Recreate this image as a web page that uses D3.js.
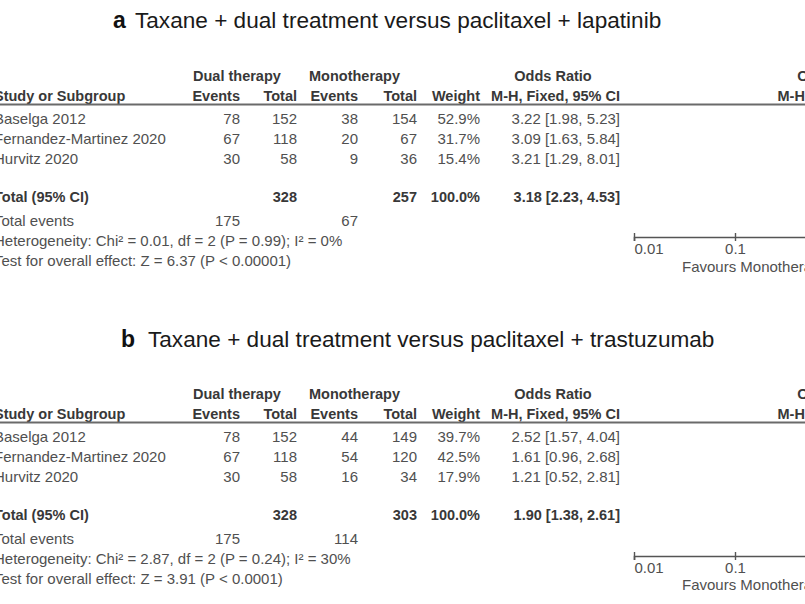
<!DOCTYPE html>
<html><head><meta charset="utf-8">
<script src="https://cdn.jsdelivr.net/npm/d3@7"></script>
<style>
html,body{margin:0;padding:0;background:#fff;overflow:hidden;}
svg{display:block;}
text{font-family:"Liberation Sans",Arial,sans-serif;}
</style></head>
<body>
<script>
// ---------- DATA ----------
const titleLetters = ["a", "b"];
const titles = ["Taxane + dual treatment versus paclitaxel + lapatinib",
                "Taxane + dual treatment versus paclitaxel + trastuzumab"];
const studies = ["Baselga 2012", "Fernandez-Martinez 2020", "Hurvitz 2020"];
const dualEvents = [78, 67, 30];
const dualTotal = [152, 118, 58];
const monoEventsA = [38, 20, 9];
const monoTotalA = [154, 67, 36];
const weightA = [52.9, 31.7, 15.4];
const orA = [3.22, 3.09, 3.21];
const loA = [1.98, 1.63, 1.29];
const hiA = [5.23, 5.84, 8.01];
const monoEventsB = [44, 54, 16];
const monoTotalB = [149, 120, 34];
const weightB = [39.7, 42.5, 17.9];
const orB = [2.52, 1.61, 1.21];
const loB = [1.57, 0.96, 0.52];
const hiB = [4.04, 2.68, 2.81];
const sumDualTotal = [328, 328];
const sumMonoTotal = [257, 303];
const sumDualEvents = [175, 175];
const sumMonoEvents = [67, 114];
const pooledOR = [3.18, 1.90];
const pooledLo = [2.23, 1.38];
const pooledHi = [4.53, 2.61];
const heterogeneity = ["Heterogeneity: Chi\u00b2 = 0.01, df = 2 (P = 0.99); I\u00b2 = 0%",
                       "Heterogeneity: Chi\u00b2 = 2.87, df = 2 (P = 0.24); I\u00b2 = 30%"];
const overallTest = ["Test for overall effect: Z = 6.37 (P < 0.00001)",
                     "Test for overall effect: Z = 3.91 (P < 0.0001)"];
const tickValues = [0.01, 0.1, 1, 10, 100];
const tickLabels = ["0.01", "0.1", "1", "10", "100"];
const favoursLeft = "Favours Monotherapy";
const favoursRight = "Favours Dual therapy";

const panels = [
  {monoEvents: monoEventsA, monoTotal: monoTotalA, weight: weightA, or: orA, lo: loA, hi: hiA},
  {monoEvents: monoEventsB, monoTotal: monoTotalB, weight: weightB, or: orB, lo: loB, hi: hiB}
];

// ---------- DRAW ----------
const W = 805, H = 604;
const svg = d3.select("body").append("svg").attr("width", W).attr("height", H);
const FS = 15, FSB = 14.5;
const cReg = "#505050", cBold = "#383838";
const x = d3.scaleLog().domain([0.01, 100]).range([634, 1038]);
const fmt1 = d3.format(".1f"), fmt2 = d3.format(".2f");
const ciText = (o, l, h) => `${fmt2(o)} [${fmt2(l)}, ${fmt2(h)}]`;

const col = {study: -6, dEv: 240, dTot: 297, mEv: 358, mTot: 417, wt: 480, ci: 620};
const offsets = [0, 318];
const titleX = [[113, 135], [121, 148]];

panels.forEach((p, i) => {
  const oy = offsets[i];
  const g = svg.append("g").attr("transform", `translate(0,${oy})`);
  const txt = (t, xx, y, anchor, bold, size, color) => g.append("text")
      .attr("x", xx).attr("y", y).attr("text-anchor", anchor || "start")
      .attr("font-size", size || (bold ? FSB : FS)).attr("font-weight", bold ? "bold" : "normal")
      .attr("fill", color || (bold ? cBold : cReg)).text(t);

  // title
  const tY = 28 + (i === 1 ? 1 : 0);
  txt(titleLetters[i], titleX[i][0], tY, "start", true, 23, "#111");
  txt(titles[i], titleX[i][1], tY, "start", false, 22.6, "#1a1a1a");

  // headers
  txt("Dual therapy", 193, 81, "start", true);
  txt("Monotherapy", 309, 81, "start", true);
  txt("Odds Ratio", 553, 81, "middle", true);
  txt("Odds Ratio", x(1), 81, "middle", true);
  txt("Study or Subgroup", col.study, 100.5, "start", true);
  txt("Events", col.dEv, 100.5, "end", true);
  txt("Total", col.dTot, 100.5, "end", true);
  txt("Events", col.mEv, 100.5, "end", true);
  txt("Total", col.mTot, 100.5, "end", true);
  txt("Weight", col.wt, 100.5, "end", true);
  txt("M-H, Fixed, 95% CI", col.ci, 100.5, "end", true);
  txt("M-H, Fixed, 95% CI", x(1) + 6, 100.5, "middle", true);

  g.append("line").attr("x1", 0).attr("x2", W).attr("y1", 104.5).attr("y2", 104.5)
    .attr("stroke", "#6a6a6a").attr("stroke-width", 2.2);

  // study rows
  const rowY = d3.scalePoint().domain(studies).range([124, 164]);
  studies.forEach((s, k) => {
    const y = rowY(s);
    txt(s, col.study, y, "start");
    txt(dualEvents[k], col.dEv, y, "end");
    txt(dualTotal[k], col.dTot, y, "end");
    txt(p.monoEvents[k], col.mEv, y, "end");
    txt(p.monoTotal[k], col.mTot, y, "end");
    txt(fmt1(p.weight[k]) + "%", col.wt, y, "end");
    txt(ciText(p.or[k], p.lo[k], p.hi[k]), col.ci, y, "end");
    // forest marks (through the log scale)
    g.append("line").attr("x1", x(p.lo[k])).attr("x2", x(p.hi[k]))
      .attr("y1", y - 5).attr("y2", y - 5).attr("stroke", "#000");
    const sz = 4 + p.weight[k] / 8;
    g.append("rect").attr("x", x(p.or[k]) - sz / 2).attr("y", y - 5 - sz / 2)
      .attr("width", sz).attr("height", sz).attr("fill", "#1f3f9f");
  });

  // total row
  txt("Total (95% CI)", col.study, 202, "start", true);
  txt(sumDualTotal[i], col.dTot, 202, "end", true);
  txt(sumMonoTotal[i], col.mTot, 202, "end", true);
  txt("100.0%", col.wt, 202, "end", true);
  txt(ciText(pooledOR[i], pooledLo[i], pooledHi[i]), col.ci, 202, "end", true);
  const dy = 197;
  g.append("path").attr("d",
    `M${x(pooledLo[i])},${dy} L${x(pooledOR[i])},${dy - 6} L${x(pooledHi[i])},${dy} L${x(pooledOR[i])},${dy + 6} Z`)
    .attr("fill", "#000");

  txt("Total events", col.study, 225.5, "start");
  txt(sumDualEvents[i], col.dEv, 225.5, "end");
  txt(sumMonoEvents[i], col.mEv, 225.5, "end");
  txt(heterogeneity[i], col.study, 245.5, "start");
  txt(overallTest[i], col.study, 265.5, "start");

  // vertical line at OR = 1
  g.append("line").attr("x1", x(1)).attr("x2", x(1)).attr("y1", 108).attr("y2", 237)
    .attr("stroke", "#000");

  // axis
  const ay = 237 + (i === 1 ? 1 : 0);
  const ax = g.append("g").attr("transform", `translate(0,${ay})`)
    .call(d3.axisBottom(x).tickValues(tickValues)
      .tickFormat((d, j) => tickLabels[j]).tickSizeOuter(0).tickSize(4));
  ax.select(".domain").attr("stroke", "#555").attr("stroke-width", 1.6);
  ax.selectAll(".tick line").attr("y1", -4).attr("y2", 4).attr("stroke", "#555").attr("stroke-width", 1.4);
  ax.selectAll(".tick text").attr("font-size", FS).attr("fill", cReg)
    .attr("font-family", '"Liberation Sans",Arial,sans-serif')
    .attr("y", 6).attr("dy", "0.71em")
    .attr("text-anchor", (d, j) => j === 0 ? "start" : (j === tickValues.length - 1 ? "end" : "middle"));
  txt(favoursLeft, x(0.01) + 48, 272, "start");
  txt(favoursRight, x(1) + 40, 272, "start");
});
</script>
</body></html>
